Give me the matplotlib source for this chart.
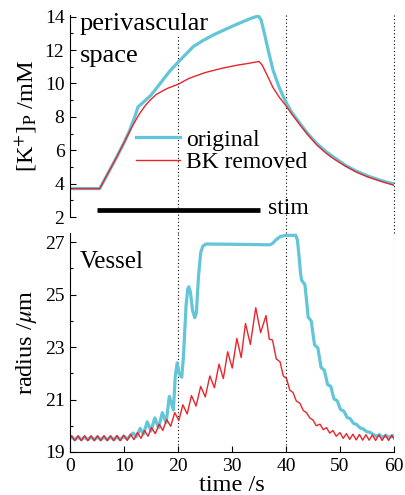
#!/usr/bin/env python3
import matplotlib

matplotlib.use("Agg")
import matplotlib.pyplot as plt
from matplotlib.ticker import MultipleLocator

# perivascular [K+] (mM)
time_k_orig = [0, 5.5, 7, 8.5, 10, 11, 12, 12.6, 13.5, 15, 16.7, 18.5, 19.8, 21.3, 22.8,
               24.5, 26.5, 28.5, 30.2, 32, 33.5, 34.9, 35.4, 36.0, 36.7, 37.6, 38.7, 39.8,
               41, 42.6, 44, 45.7, 47.5, 49, 51, 53, 55, 57, 58.5, 60]
k_orig = [3.7, 3.7, 4.6, 5.5, 6.45, 7.15, 8.0, 8.6, 8.85, 9.3, 10.0, 10.75, 11.2, 11.7, 12.2,
          12.55, 12.9, 13.2, 13.45, 13.7, 13.9, 14.05, 13.8, 13.0, 12.0, 10.8, 9.8, 9.0,
          8.3, 7.6, 7.0, 6.4, 5.9, 5.55, 5.1, 4.75, 4.48, 4.25, 4.1, 3.98]
time_k_bk = [0, 5.5, 7, 8.5, 10, 11, 12, 13, 14, 15, 16, 18, 20, 22, 25, 28, 31, 33, 35,
             35.6, 36.5, 37.6, 38.7, 39.8, 41, 42.6, 44, 45.7, 47.5, 49, 51, 53, 55, 57,
             58.5, 60]
k_bk = [3.7, 3.7, 4.6, 5.5, 6.45, 7.1, 7.7, 8.25, 8.7, 9.05, 9.35, 9.7, 9.95, 10.3, 10.65,
        10.9, 11.1, 11.2, 11.32, 11.1, 10.5, 9.75, 9.2, 8.75, 8.2, 7.52, 6.95, 6.32, 5.8,
        5.45, 5.05, 4.7, 4.42, 4.2, 4.05, 3.9]

# vessel radius (um)
time_r_orig = [0.0, 0.3, 0.9, 1.5, 2.1, 2.7, 3.3, 3.9, 4.5, 5.1, 5.7, 6.3, 6.9, 7.5, 8.1,
               8.7, 9.3, 9.95, 10.6, 11.7, 12.3, 13.0, 13.6, 14.3, 15.0, 15.7, 16.4, 17.1,
               17.8, 18.4, 19.15, 19.5, 19.85, 20.2, 20.7, 21.0, 21.3, 21.5, 21.8, 22.0,
               22.3, 22.7, 23.1, 23.4, 23.8, 24.2, 24.6, 25.2, 30.0, 37.0, 37.5, 38.2, 39.0,
               40.0, 41.8, 42.1, 42.4, 42.7, 42.9, 43.5, 43.8, 44.1, 44.7, 45.0, 45.3, 45.9,
               46.2, 46.5, 47.1, 47.4, 47.7, 48.3, 48.6, 48.9, 49.5, 49.8, 50.1, 50.7, 51.0,
               51.3, 51.9, 52.2, 52.5, 53.1, 53.4, 53.7, 54.3, 54.6, 54.9, 55.5, 55.8, 56.1,
               56.7, 57.3, 57.9, 58.5, 59.1, 59.7, 60.0]
r_orig = [19.52, 19.57, 19.47, 19.57, 19.47, 19.57, 19.47, 19.57, 19.47, 19.57, 19.47,
          19.57, 19.47, 19.57, 19.47, 19.58, 19.47, 19.6, 19.5, 19.72, 19.58, 19.9, 19.68,
          20.15, 19.8, 20.3, 19.92, 20.5, 20.12, 21.12, 20.6, 21.9, 22.4, 22.0, 21.85,
          22.6, 23.8, 24.6, 25.2, 25.3, 25.1, 24.4, 24.12, 24.3, 25.7, 26.6, 26.85, 26.93,
          26.92, 26.9, 26.95, 27.1, 27.22, 27.26, 27.26, 27.1, 26.5, 25.8, 25.55, 25.38,
          24.8, 24.15, 23.98, 23.5, 23.08, 22.97, 22.6, 22.22, 22.12, 21.85, 21.57, 21.5,
          21.25, 21.02, 20.95, 20.78, 20.62, 20.56, 20.45, 20.32, 20.27, 20.18, 20.09, 20.05,
          19.98, 19.92, 19.88, 19.83, 19.78, 19.75, 19.72, 19.68, 19.6, 19.66, 19.56,
          19.64, 19.55, 19.63, 19.56]
time_r_bk = [0.0, 0.3, 0.9, 1.5, 2.1, 2.7, 3.3, 3.9, 4.5, 5.1, 5.7, 6.3, 6.9, 7.5, 8.1, 8.7,
             9.3, 9.95, 10.6, 11.2, 11.85, 12.5, 13.15, 13.8, 14.45, 15.1, 15.8, 16.5, 17.2,
             17.9, 18.65, 19.4, 20.15, 20.9, 21.7, 22.5, 23.35, 24.2, 25.05, 25.9, 26.75,
             27.6, 28.4, 29.2, 30.05, 30.9, 31.7, 32.5, 33.4, 34.4, 35.3, 36.3, 36.9, 37.5,
             38.2, 38.9, 39.5, 40.1, 40.7, 41.3, 41.9, 42.6, 43.2, 43.8, 44.4, 45.0, 45.6,
             46.3, 46.9, 47.5, 48.1, 48.7, 49.3, 50.0, 50.6, 51.2, 51.8, 52.4, 53.0, 53.6,
             54.2, 54.8, 55.4, 56.0, 56.6, 57.2, 57.8, 58.4, 59.0, 59.6, 60.0]
r_bk = [19.5, 19.62, 19.43, 19.62, 19.43, 19.62, 19.43, 19.62, 19.43, 19.62, 19.43, 19.62,
        19.43, 19.62, 19.43, 19.63, 19.43, 19.64, 19.44, 19.68, 19.47, 19.74, 19.52, 19.82,
        19.6, 19.93, 19.7, 20.06, 19.82, 20.24, 19.98, 20.5, 20.2, 20.8, 20.45, 21.15,
        20.75, 21.5, 21.1, 21.9, 21.45, 22.35, 21.8, 22.82, 22.2, 23.33, 22.6, 23.9, 23.1,
        24.5, 23.55, 24.2, 23.3, 23.27, 22.55, 22.44, 21.9, 21.8, 21.36, 21.27, 20.95,
        20.85, 20.58, 20.5, 20.3, 20.22, 20.0, 20.06, 19.85, 19.93, 19.72, 19.82, 19.6,
        19.74, 19.52, 19.7, 19.48, 19.68, 19.46, 19.67, 19.45, 19.66, 19.45, 19.65, 19.44,
        19.65, 19.44, 19.64, 19.44, 19.64, 19.5]

stim_on, stim_off = 5.0, 35.2
marker_times = [20, 40, 60]
radius_ticks = [19, 21, 23, 25, 27]
radius_minor = [20, 22, 24, 26]

BLUE = "#63c6d8"
RED = "#e8252b"

plt.rcParams["font.family"] = ["Liberation Serif", "DejaVu Serif"]
plt.rcParams["mathtext.fontset"] = "stix"

fig = plt.figure(figsize=(4.06, 4.95), dpi=100)
ax_k = fig.add_axes([0.1724, 0.5616, 0.798, 0.408])
ax_r = fig.add_axes([0.1724, 0.0869, 0.798, 0.4424])
ax_r.patch.set_alpha(0)

dots = dict(color="black", linestyle=(0, (1, 2.2)), linewidth=0.8, zorder=1)
for t in marker_times:
    ax_k.axvline(t, ymin=-0.08, ymax=1, clip_on=False, **dots)
    ax_r.axvline(t, **dots)

ax_k.plot(time_k_orig, k_orig, color=BLUE, lw=2.3, solid_joinstyle="round", label="original")
ax_k.plot(time_k_bk, k_bk, color=RED, lw=1.0, solid_joinstyle="round", label="BK removed")
ax_k.hlines(2.42, stim_on, stim_off, color="black", lw=3.4)
ax_k.text(36.6, 2.2, "stim", fontsize=17, va="baseline")
for label, y in (("perivascular", 13.2), ("space", 11.3)):
    ax_k.text(1.8, y, label, fontsize=19, va="baseline", zorder=3,
              bbox=dict(facecolor="white", edgecolor="none", pad=0))
ax_k.legend(loc="upper left", bbox_to_anchor=(0.205, 0.435), frameon=False, fontsize=17,
            handlelength=1.85, handletextpad=0.25, labelspacing=0.05, borderpad=0,
            borderaxespad=0)

ax_r.plot(time_r_orig, r_orig, color=BLUE, lw=2.3, solid_joinstyle="round")
ax_r.plot(time_r_bk, r_bk, color=RED, lw=1.0, solid_joinstyle="round")
ax_r.text(1.8, 26.0, "Vessel", fontsize=18, va="baseline")

ax_k.set_xlim(0, 60)
ax_k.set_ylim(2, 14.1)
ax_r.set_xlim(0, 60)
ax_r.set_ylim(19, 27.35)

for ax in (ax_k, ax_r):
    for side in ("top", "right"):
        ax.spines[side].set_visible(False)
    ax.spines["left"].set_linewidth(0.8)
    ax.tick_params(direction="in", labelsize=14, length=4, width=0.8, pad=4)
    ax.tick_params(which="minor", direction="in", length=2.5, width=0.8)

ax_k.spines["bottom"].set_visible(False)
ax_k.set_xticks([])
ax_k.yaxis.set_major_locator(MultipleLocator(2))
ax_k.yaxis.set_minor_locator(MultipleLocator(1))
ax_k.set_ylabel(r"[K$^{+}$]$_{\mathrm{P}}$ /mM", fontsize=17.5, labelpad=4)

ax_r.spines["bottom"].set_linewidth(0.8)
ax_r.xaxis.set_major_locator(MultipleLocator(10))
ax_r.set_yticks(radius_ticks)
ax_r.set_yticks(radius_minor, minor=True)
ax_r.set_ylabel(r"radius /$\mu$m", fontsize=17.5, labelpad=4)
ax_r.set_xlabel("time /s", fontsize=17.5, labelpad=0)

fig.savefig("out.png", dpi=100)
